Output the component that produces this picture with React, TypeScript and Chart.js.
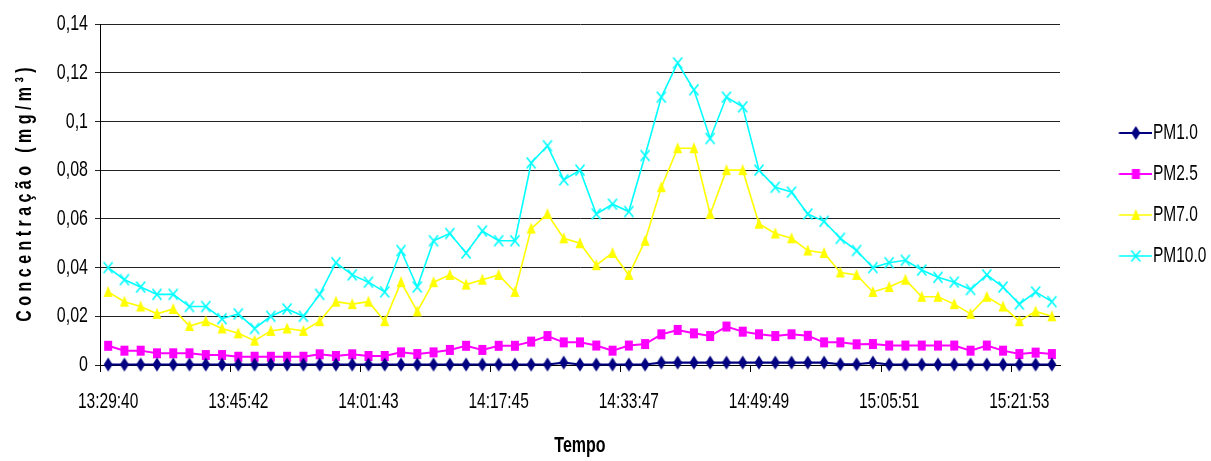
import { useEffect, useRef } from 'react';
import { Chart, registerables } from 'chart.js';

Chart.register(...registerables);

const FONT = "'Liberation Sans', Arial, sans-serif";
// Glyphs are drawn taller than their natural proportions (narrow, tall lettering)
const TEXT_STRETCH = 1.4;

// Sampling times (one reading about every two minutes)
const times = [
  '13:29:40', '13:31:40', '13:33:40', '13:35:40', '13:37:41', '13:39:41', '13:41:41', '13:43:41',
  '13:45:42', '13:47:42', '13:49:42', '13:51:42', '13:53:43', '13:55:43', '13:57:43', '13:59:43',
  '14:01:43', '14:03:43', '14:05:43', '14:07:43', '14:09:44', '14:11:44', '14:13:44', '14:15:44',
  '14:17:45', '14:19:45', '14:21:45', '14:23:45', '14:25:46', '14:27:46', '14:29:46', '14:31:46',
  '14:33:47', '14:35:47', '14:37:47', '14:39:47', '14:41:48', '14:43:48', '14:45:48', '14:47:48',
  '14:49:49', '14:51:49', '14:53:49', '14:55:49', '14:57:50', '14:59:50', '15:01:50', '15:03:50',
  '15:05:51', '15:07:51', '15:09:51', '15:11:51', '15:13:52', '15:15:52', '15:17:52', '15:19:52',
  '15:21:53', '15:23:53', '15:25:53',
];

// Concentrations in mg/m³
const pm1 = [
  0.0002, 0.0002, 0.0002, 0.0002, 0.0002, 0.0002, 0.0002, 0.0002, 0.0002, 0.0002,
  0.0002, 0.0002, 0.0002, 0.0002, 0.0002, 0.0002, 0.0002, 0.0002, 0.0002, 0.0002,
  0.0002, 0.0002, 0.0002, 0.0002, 0.0002, 0.0002, 0.0002, 0.0002, 0.001, 0.0002,
  0.0002, 0.0002, 0.0002, 0.0002, 0.001, 0.001, 0.001, 0.001, 0.001, 0.001,
  0.001, 0.001, 0.001, 0.001, 0.001, 0.0003, 0.0003, 0.001, 0.0002, 0.0002,
  0.0002, 0.0002, 0.0002, 0.0002, 0.0002, 0.0002, 0.0002, 0.0002, 0.0002,
];

const pm25 = [
  0.0079, 0.0059, 0.0059, 0.0048, 0.0048, 0.0048, 0.0041, 0.0041, 0.0034, 0.0034,
  0.0034, 0.0034, 0.0034, 0.0044, 0.0037, 0.0044, 0.0037, 0.0037, 0.0052, 0.0045,
  0.0052, 0.0062, 0.0079, 0.0062, 0.0079, 0.0079, 0.0096, 0.0119, 0.0093, 0.0093,
  0.008, 0.0059, 0.008, 0.0086, 0.0126, 0.0144, 0.013, 0.0119, 0.0158, 0.0137,
  0.0126, 0.0119, 0.0126, 0.012, 0.0093, 0.0093, 0.0085, 0.0086, 0.008, 0.008,
  0.008, 0.008, 0.008, 0.0059, 0.008, 0.0059, 0.0045, 0.0051, 0.0045,
];

const pm7 = [
  0.030, 0.026, 0.024, 0.021, 0.023, 0.016, 0.018, 0.015, 0.013, 0.010,
  0.014, 0.015, 0.014, 0.018, 0.026, 0.025, 0.026, 0.018, 0.034, 0.022,
  0.034, 0.037, 0.033, 0.035, 0.037, 0.030, 0.056, 0.062, 0.052, 0.050,
  0.041, 0.046, 0.037, 0.051, 0.073, 0.089, 0.089, 0.062, 0.080, 0.080,
  0.058, 0.054, 0.052, 0.047, 0.046, 0.038, 0.037, 0.030, 0.032, 0.035,
  0.028, 0.028, 0.025, 0.021, 0.028, 0.024, 0.018, 0.022, 0.020,
];

const pm10 = [
  0.040, 0.035, 0.032, 0.029, 0.029, 0.024, 0.024, 0.019, 0.021, 0.015,
  0.020, 0.023, 0.020, 0.029, 0.042, 0.037, 0.034, 0.030, 0.047, 0.032,
  0.051, 0.054, 0.046, 0.055, 0.051, 0.051, 0.083, 0.090, 0.076, 0.080,
  0.062, 0.066, 0.063, 0.086, 0.110, 0.124, 0.113, 0.093, 0.110, 0.106,
  0.080, 0.073, 0.071, 0.062, 0.059, 0.052, 0.047, 0.040, 0.042, 0.043,
  0.039, 0.036, 0.034, 0.031, 0.037, 0.032, 0.025, 0.030, 0.026,
];

const seriesNames = ['PM1.0', 'PM2.5', 'PM7.0', 'PM10.0'];
const yTickLabels = ['0', '0,02', '0,04', '0,06', '0,08', '0,1', '0,12', '0,14'];
const xLabelEvery = 8;

type Shape = 'diamond' | 'square' | 'triangle' | 'cross';

function drawMarker(ctx: CanvasRenderingContext2D, shape: Shape, cx: number, cy: number, color: string) {
  ctx.fillStyle = color;
  ctx.strokeStyle = color;
  ctx.beginPath();
  if (shape === 'diamond') {
    ctx.moveTo(cx, cy - 7);
    ctx.lineTo(cx + 4.5, cy);
    ctx.lineTo(cx, cy + 7);
    ctx.lineTo(cx - 4.5, cy);
    ctx.closePath();
    ctx.fill();
  } else if (shape === 'square') {
    ctx.rect(cx - 4, cy - 5, 8, 10);
    ctx.fill();
  } else if (shape === 'triangle') {
    ctx.moveTo(cx, cy - 6);
    ctx.lineTo(cx + 4.5, cy + 5);
    ctx.lineTo(cx - 4.5, cy + 5);
    ctx.closePath();
    ctx.fill();
  } else {
    ctx.lineWidth = 1.6;
    ctx.moveTo(cx - 4.5, cy - 5.5);
    ctx.lineTo(cx + 4.5, cy + 5.5);
    ctx.moveTo(cx + 4.5, cy - 5.5);
    ctx.lineTo(cx - 4.5, cy + 5.5);
    ctx.stroke();
  }
}

function markerImage(shape: Shape, color: string) {
  const c = document.createElement('canvas');
  c.width = 12;
  c.height = 16;
  const ctx = c.getContext('2d')!;
  drawMarker(ctx, shape, 6, 8, color);
  return c;
}

// Legend symbol: a short line with the marker in its middle; the left part stays empty
function legendImage(shape: Shape, color: string, lineWidth: number) {
  const c = document.createElement('canvas');
  c.width = 74;
  c.height = 16;
  const ctx = c.getContext('2d')!;
  ctx.strokeStyle = color;
  ctx.lineWidth = lineWidth;
  ctx.beginPath();
  ctx.moveTo(40.5, 8);
  ctx.lineTo(74, 8);
  ctx.stroke();
  drawMarker(ctx, shape, 57.5, 8, color);
  return c;
}

// Draws every label of this chart with tall, narrow glyphs (scaled about the anchor point)
const tallText = {
  id: 'tallText',
  beforeDraw(chart: any) {
    const ctx: any = chart.ctx;
    if (ctx.__tallText) return;
    ctx.__tallText = true;
    const base = CanvasRenderingContext2D.prototype.fillText;
    ctx.fillText = function (text: string, x: number, y: number, maxWidth?: number) {
      this.save();
      this.translate(x, y);
      this.scale(1, TEXT_STRETCH);
      if (maxWidth === undefined) base.call(this, text, 0, 0);
      else base.call(this, text, 0, 0, maxWidth);
      this.restore();
    };
  },
};

export default function App() {
  const ref = useRef<HTMLCanvasElement>(null);

  useEffect(() => {
    const canvas = ref.current;
    if (!canvas) return;

    const series = [
      { data: pm1, color: '#000080', shape: 'diamond' as Shape, width: 2.2 },
      { data: pm25, color: '#FF00FF', shape: 'square' as Shape, width: 2 },
      { data: pm7, color: '#FFFF00', shape: 'triangle' as Shape, width: 1.6 },
      { data: pm10, color: '#00FFFF', shape: 'cross' as Shape, width: 1.6 },
    ];
    const legendImgs = series.map((s) => legendImage(s.shape, s.color, s.width));

    const chart = new Chart(canvas, {
      type: 'line',
      data: {
        labels: times,
        datasets: series.map((s, i) => ({
          label: seriesNames[i],
          data: s.data,
          borderColor: s.color,
          backgroundColor: s.color,
          borderWidth: s.width,
          pointStyle: markerImage(s.shape, s.color),
          pointRadius: 5,
          pointHoverRadius: 5,
          tension: 0,
          fill: false,
          clip: false,
        })),
      },
      plugins: [tallText],
      options: {
        animation: false,
        responsive: false,
        maintainAspectRatio: false,
        devicePixelRatio: 1,
        layout: { padding: { top: 24, left: 0, right: 0, bottom: 0 } },
        plugins: {
          tooltip: { enabled: false },
          legend: {
            position: 'right',
            align: 'center',
            fullSize: false,
            maxWidth: 151,
            labels: {
              usePointStyle: true,
              pointStyleWidth: 59.75,
              padding: 25.5,
              color: '#000',
              font: { family: FONT, size: 15.5 },
              generateLabels: (ch: any) =>
                ch.data.datasets.map((ds: any, i: number) => ({
                  text: ds.label,
                  pointStyle: legendImgs[i],
                  fillStyle: 'rgba(0,0,0,0)',
                  strokeStyle: 'rgba(0,0,0,0)',
                  lineWidth: 0,
                  hidden: false,
                  datasetIndex: i,
                  fontColor: '#000',
                })),
            },
          },
        },
        scales: {
          x: {
            type: 'category',
            offset: true,
            grid: {
              display: true,
              drawOnChartArea: false,
              drawTicks: true,
              tickLength: 7,
              offset: true,
              lineWidth: 1,
              color: (ctx: any) => (ctx.index % xLabelEvery === 0 ? '#000' : 'rgba(0,0,0,0)'),
            },
            border: { display: true, color: '#000', width: 1 },
            ticks: {
              autoSkip: false,
              maxRotation: 0,
              minRotation: 0,
              padding: 20.7,
              color: '#000',
              font: { family: FONT, size: 15.5 },
              callback: (_v: any, i: number) => (i % xLabelEvery === 0 ? times[i] : ''),
            },
            title: {
              display: true,
              text: 'Tempo',
              color: '#000',
              font: { family: FONT, size: 16, weight: 'bold' },
              padding: { top: 0, bottom: 5.9 },
            },
            afterFit: (s: any) => {
              s.height = 96;
            },
          },
          y: {
            type: 'linear',
            min: 0,
            max: 0.14,
            grid: { color: '#222', lineWidth: 1, drawTicks: true, tickLength: 5 },
            border: { display: true, color: '#000', width: 1 },
            ticks: {
              stepSize: 0.02,
              padding: 7,
              color: '#000',
              font: { family: FONT, size: 16 },
              callback: (_v: any, i: number) => yTickLabels[i],
            },
            title: {
              display: true,
              text: 'C o n c e n t r a ç ã o   ( m g / m ³ )',
              color: '#000',
              font: { family: FONT, size: 16, weight: 'bold' },
              padding: { top: 15.4, bottom: 0 },
            },
            afterFit: (s: any) => {
              s.width = 100;
            },
          },
        },
      } as any,
    });

    return () => chart.destroy();
  }, []);

  return (
    <div style={{ position: 'absolute', left: 0, top: 0, width: 1211, height: 461, background: '#fff' }}>
      <canvas ref={ref} width={1211} height={461} style={{ display: 'block', width: 1211, height: 461 }} />
    </div>
  );
}
